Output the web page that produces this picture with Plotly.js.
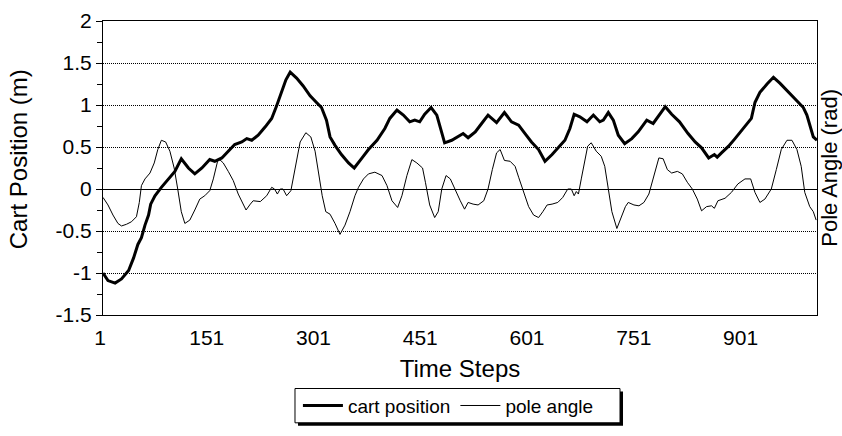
<!DOCTYPE html>
<html>
<head>
<meta charset="utf-8">
<script src="https://cdn.plot.ly/plotly-3.0.1.min.js"></script>
<style>
  html, body { margin: 0; padding: 0; background: #fff; }
  #chart { width: 842px; height: 436px; }
</style>
</head>
<body>
<div id="chart"></div>
<script>
// Cart position (m) over the simulation, sampled at turning points
const cartSteps = [1, 8, 18, 27, 37, 44, 50, 55, 60, 65, 68, 74, 83, 93, 102, 111, 121, 130, 140, 151,
  158, 168, 177, 186, 196, 203, 210, 219, 229, 238, 245, 252, 258, 264, 273, 282, 292, 301, 308, 315,
  320, 327, 336, 346, 354, 365, 374, 386, 397, 404, 414, 423, 432, 439, 446, 453, 462, 470, 477, 481,
  491, 500, 507, 514, 524, 533, 542, 554, 565, 575, 585, 594, 603, 613, 622, 632, 641, 650, 657, 663,
  671, 681, 690, 699, 704, 711, 718, 725, 734, 744, 753, 765, 774, 783, 791, 800, 811, 823, 833, 842,
  852, 860, 864, 870, 880, 889, 901, 912, 917, 924, 934, 943, 952, 964, 976, 985, 990, 995, 999, 1004];
const cartPosition = [-1.00, -1.09, -1.12, -1.07, -0.97, -0.82, -0.66, -0.58, -0.43, -0.31, -0.18, -0.08, 0.02, 0.12, 0.21, 0.36, 0.25, 0.18, 0.25, 0.35,
  0.33, 0.37, 0.45, 0.53, 0.56, 0.60, 0.58, 0.64, 0.74, 0.84, 0.99, 1.17, 1.30, 1.39, 1.32, 1.23, 1.11, 1.03, 0.97, 0.82,
  0.62, 0.52, 0.41, 0.31, 0.25, 0.37, 0.47, 0.58, 0.72, 0.84, 0.94, 0.88, 0.80, 0.82, 0.80, 0.89, 0.97, 0.88, 0.66, 0.55,
  0.58, 0.62, 0.66, 0.61, 0.68, 0.78, 0.88, 0.79, 0.91, 0.80, 0.76, 0.66, 0.56, 0.47, 0.33, 0.41, 0.50, 0.58, 0.72, 0.89,
  0.86, 0.80, 0.88, 0.80, 0.82, 0.91, 0.82, 0.64, 0.54, 0.60, 0.68, 0.82, 0.78, 0.88, 0.98, 0.89, 0.80, 0.66, 0.56, 0.49,
  0.37, 0.41, 0.38, 0.43, 0.51, 0.60, 0.72, 0.84, 1.03, 1.15, 1.25, 1.33, 1.26, 1.15, 1.05, 0.97, 0.88, 0.74, 0.62, 0.58];

// Pole angle (rad) over the same steps
const poleSteps = [1, 8, 15, 22, 27, 34, 41, 48, 52, 55, 60, 67, 73, 78, 83, 89, 95, 101, 106, 111,
  116, 123, 130, 137, 144, 151, 156, 162, 165, 170, 177, 184, 191, 198, 202, 208, 212, 222, 231, 238,
  242, 246, 250, 254, 259, 265, 271, 278, 286, 293, 299, 305, 309, 314, 320, 327, 334, 341, 348, 355,
  360, 367, 374, 383, 393, 400, 407, 415, 421, 428, 435, 442, 450, 454, 460, 467, 472, 477, 483, 489,
  496, 503, 509, 514, 521, 528, 536, 542, 548, 554, 559, 565, 573, 580, 585, 592, 599, 606, 613, 619,
  625, 632, 640, 647, 654, 659, 663, 666, 669, 673, 678, 682, 687, 694, 701, 706, 711, 716, 723, 729,
  735, 739, 747, 754, 761, 768, 775, 782, 788, 794, 800, 808, 815, 822, 829, 836, 842, 849, 856, 860,
  865, 875, 884, 893, 903, 911, 917, 924, 931, 940, 947, 954, 962, 969, 976, 982, 987, 994, 999, 1003];
const poleAngle = [-0.10, -0.19, -0.31, -0.41, -0.44, -0.42, -0.39, -0.33, -0.16, 0.04, 0.12, 0.19, 0.31, 0.47, 0.58, 0.56, 0.45, 0.25, 0.00, -0.27,
  -0.41, -0.37, -0.25, -0.12, -0.08, -0.02, 0.12, 0.33, 0.35, 0.31, 0.21, 0.10, -0.06, -0.19, -0.25, -0.18, -0.14, -0.15, -0.08, 0.02,
  0.00, -0.06, 0.00, 0.00, -0.08, -0.02, 0.27, 0.56, 0.67, 0.62, 0.45, 0.16, -0.08, -0.27, -0.30, -0.41, -0.54, -0.43, -0.27, -0.08,
  0.02, 0.12, 0.18, 0.20, 0.16, 0.04, -0.14, -0.22, -0.08, 0.16, 0.35, 0.31, 0.25, 0.08, -0.19, -0.34, -0.27, 0.00, 0.16, 0.12,
  -0.02, -0.14, -0.24, -0.16, -0.18, -0.19, -0.14, 0.00, 0.23, 0.43, 0.47, 0.34, 0.33, 0.27, 0.14, -0.04, -0.21, -0.31, -0.34, -0.27,
  -0.19, -0.18, -0.16, -0.10, 0.00, 0.00, -0.08, -0.03, -0.06, 0.12, 0.35, 0.51, 0.55, 0.45, 0.39, 0.27, 0.00, -0.27, -0.47, -0.33,
  -0.21, -0.16, -0.19, -0.20, -0.16, -0.06, 0.16, 0.37, 0.36, 0.23, 0.19, 0.21, 0.18, 0.08, 0.00, -0.12, -0.26, -0.21, -0.20, -0.23,
  -0.14, -0.11, -0.04, 0.06, 0.12, 0.12, -0.04, -0.16, -0.12, 0.00, 0.23, 0.47, 0.58, 0.58, 0.47, 0.27, -0.04, -0.21, -0.27, -0.37];

// Axis labels
const stepTicks = [1, 151, 301, 451, 601, 751, 901];
const valueTicks = [-1.5, -1, -0.5, 0, 0.5, 1, 1.5, 2];
const valueTickText = ['-1.5', '-1', '-0.5', '0', '0.5', '1', '1.5', '2'];

const FONT = 'Liberation Sans, Arial, sans-serif';
const INK = '#000000';

const traces = [
  {
    x: cartSteps, y: cartPosition, name: 'cart position',
    type: 'scatter', mode: 'lines',
    line: { color: INK, width: 3 }, yaxis: 'y'
  },
  {
    x: poleSteps, y: poleAngle, name: 'pole angle',
    type: 'scatter', mode: 'lines',
    line: { color: INK, width: 1 }, yaxis: 'y2'
  }
];

const layout = {
  width: 842, height: 436,
  margin: { l: 103, r: 25, t: 21, b: 115 },
  paper_bgcolor: '#ffffff', plot_bgcolor: '#ffffff',
  font: { family: FONT, color: INK, size: 21 },
  showlegend: true,
  legend: {
    orientation: 'h',
    x: 0.273, xanchor: 'left',
    y: -0.3083, yanchor: 'middle',
    bgcolor: 'rgba(0,0,0,0)', borderwidth: 0,
    font: { family: FONT, size: 19, color: INK },
    itemwidth: 40
  },
  xaxis: {
    range: [1, 1004.2],
    tickmode: 'array', tickvals: stepTicks,
    ticks: '', ticklabelshift: -3, ticklabelstandoff: 4,
    tickfont: { family: FONT, size: 21, color: INK },
    showline: true, mirror: true, linecolor: INK, linewidth: 1,
    showgrid: false, zeroline: false,
    title: { text: 'Time Steps', font: { family: FONT, size: 24, color: INK }, standoff: 11 },
    automargin: false
  },
  yaxis: {
    range: [-1.5, 2],
    tickmode: 'array', tickvals: valueTicks, ticktext: valueTickText,
    ticks: 'outside', ticklen: 6, tickcolor: INK, tickwidth: 1,
    minor: { tickmode: 'linear', tick0: 0, dtick: 0.25, ticks: 'outside', ticklen: 5, tickcolor: INK, showgrid: false },
    tickfont: { family: FONT, size: 21, color: INK },
    showline: true, mirror: true, linecolor: INK, linewidth: 1,
    showgrid: true, gridcolor: INK, gridwidth: 1, griddash: '1px,1px',
    zeroline: true, zerolinecolor: INK, zerolinewidth: 1,
    automargin: false
  },
  yaxis2: {
    overlaying: 'y', side: 'right',
    range: [-1.5, 2],
    showticklabels: false, ticks: '',
    showgrid: false, zeroline: false, showline: false,
    automargin: false
  },
  shapes: [
    // legend box drop shadow
    { type: 'rect', xref: 'paper', yref: 'paper', layer: 'above',
      x0: 0.2731, x1: 0.7283, y0: -0.26, y1: -0.3767,
      fillcolor: INK, line: { width: 0 } },
    // legend box
    { type: 'rect', xref: 'paper', yref: 'paper', layer: 'above',
      x0: 0.2689, x1: 0.7241, y0: -0.25, y1: -0.3667,
      fillcolor: '#ffffff', line: { color: INK, width: 1 } }
  ],
  annotations: [
    { text: 'Cart Position (m)', xref: 'paper', yref: 'paper',
      x: -0.119, y: 0.53, xanchor: 'center', yanchor: 'middle',
      textangle: -90, showarrow: false,
      font: { family: FONT, size: 24, color: INK } },
    { text: 'Pole Angle (rad)', xref: 'paper', yref: 'paper',
      x: 1.0165, y: 0.50, xanchor: 'center', yanchor: 'middle',
      textangle: -90, showarrow: false,
      font: { family: FONT, size: 22, color: INK } }
  ]
};

Plotly.newPlot('chart', traces, layout, { staticPlot: true, displayModeBar: false });
</script>
</body>
</html>
